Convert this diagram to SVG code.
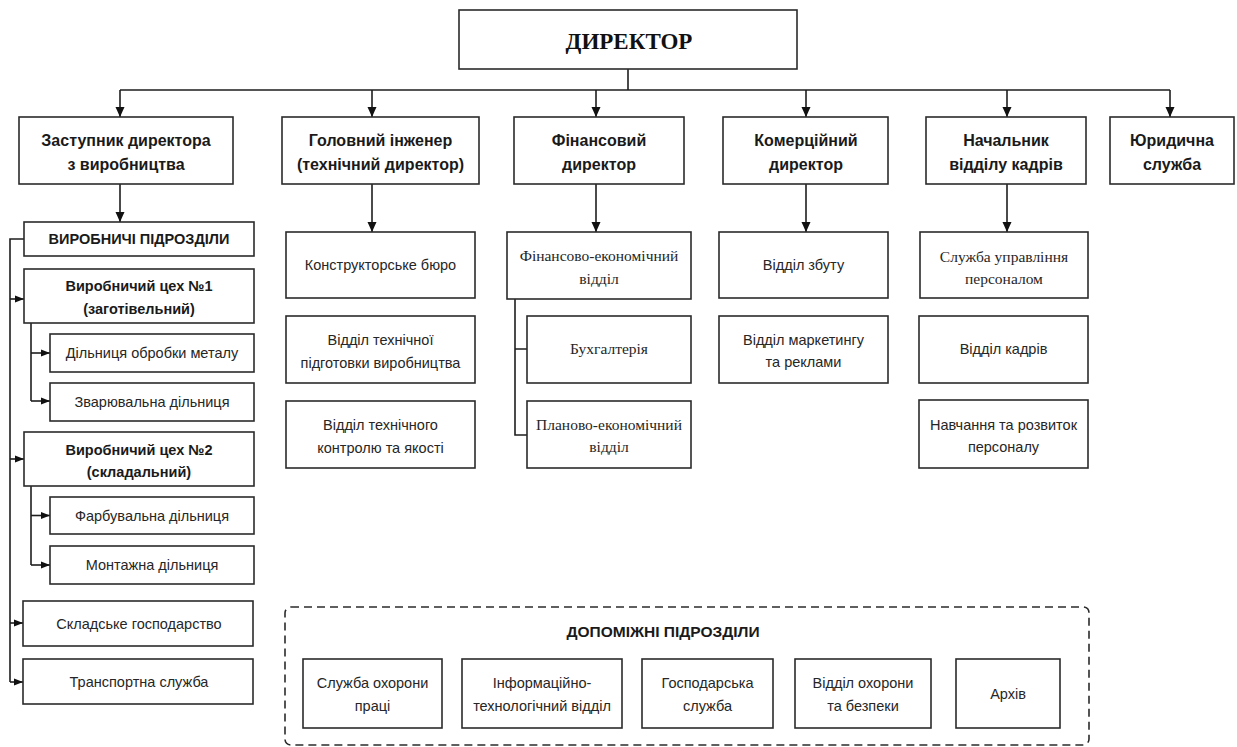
<svg xmlns="http://www.w3.org/2000/svg" width="1237" height="747" viewBox="0 0 1237 747">
<style>
.box{fill:#fff;stroke:#2b2b2b;stroke-width:1.6}
.ln{fill:none;stroke:#1e1e1e;stroke-width:1.6}
.dash{fill:none;stroke:#2b2b2b;stroke-width:1.6;stroke-dasharray:8 5}
.t{font-family:"Liberation Sans",Arial,sans-serif;font-size:14.5px;fill:#262626;text-anchor:middle}
.b{font-weight:bold;fill:#1a1a1a}
.l2{font-size:16px}
.s{font-family:"Liberation Serif","Times New Roman",serif;font-size:15.5px}
.dir{font-family:"Liberation Serif","Times New Roman",serif;font-size:23px;font-weight:bold;fill:#111;text-anchor:middle}
</style>
<defs>
<marker id="ar" markerUnits="userSpaceOnUse" markerWidth="10" markerHeight="10" viewBox="0 0 10 10" refX="10" refY="5" orient="auto">
<path d="M0,0.5 L10,5 L0,9.5 z" fill="#111"/>
</marker>
<marker id="as" markerUnits="userSpaceOnUse" markerWidth="9" markerHeight="9" viewBox="0 0 10 10" refX="10" refY="5" orient="auto">
<path d="M0,1 L10,5 L0,9 z" fill="#111"/>
</marker>
</defs>

<g id="connectors">
<path class="ln" d="M628,69 V90 M120,90 H1170"/>
<path class="ln" marker-end="url(#ar)" d="M120,90 V117"/>
<path class="ln" marker-end="url(#ar)" d="M372,90 V117"/>
<path class="ln" marker-end="url(#ar)" d="M596,90 V117"/>
<path class="ln" marker-end="url(#ar)" d="M806,90 V117"/>
<path class="ln" marker-end="url(#ar)" d="M1007,90 V117"/>
<path class="ln" marker-end="url(#ar)" d="M1170,90 V117"/>
<path class="ln" marker-end="url(#ar)" d="M120,184 V222"/>
<path class="ln" marker-end="url(#ar)" d="M372,184 V232"/>
<path class="ln" marker-end="url(#ar)" d="M596,184 V232"/>
<path class="ln" marker-end="url(#ar)" d="M806,184 V232"/>
<path class="ln" marker-end="url(#ar)" d="M1007,184 V232"/>
<path class="ln" d="M24,239 H10 V682"/>
<path class="ln" marker-end="url(#as)" d="M10,299 H24"/>
<path class="ln" marker-end="url(#as)" d="M10,459 H24"/>
<path class="ln" marker-end="url(#as)" d="M10,623 H23"/>
<path class="ln" marker-end="url(#as)" d="M10,682 H23"/>
<path class="ln" d="M31,323 V401"/>
<path class="ln" marker-end="url(#as)" d="M31,353 H50"/>
<path class="ln" marker-end="url(#as)" d="M31,401 H50"/>
<path class="ln" d="M31,486 V565"/>
<path class="ln" marker-end="url(#as)" d="M31,515.5 H50"/>
<path class="ln" marker-end="url(#as)" d="M31,565 H50"/>
<path class="ln" d="M515,299 V435 H527 M515,349 H527"/>
</g>

<g id="director"><rect class="box" x="459" y="10" width="338" height="59"/><text class="dir" x="629" y="48.5">ДИРЕКТОР</text></g>

<g id="zast"><rect class="box" x="19" y="117" width="214" height="67"/><text class="t b l2" x="126" y="145.5">Заступник директора</text><text class="t b l2" x="126" y="170">з виробництва</text></g>
<g id="holovnyi"><rect class="box" x="282" y="117" width="197" height="67"/><text class="t b l2" x="380.5" y="145.5">Головний інженер</text><text class="t b l2" x="380.5" y="170">(технічний директор)</text></g>
<g id="fin"><rect class="box" x="514" y="117" width="170" height="67"/><text class="t b l2" x="599" y="145.5">Фінансовий</text><text class="t b l2" x="599" y="170">директор</text></g>
<g id="kom"><rect class="box" x="723" y="117" width="165" height="67"/><text class="t b l2" x="806" y="145.5">Комерційний</text><text class="t b l2" x="806" y="170">директор</text></g>
<g id="kadry"><rect class="box" x="926" y="117" width="160" height="67"/><text class="t b l2" x="1006" y="145.5">Начальник</text><text class="t b l2" x="1006" y="170">відділу кадрів</text></g>
<g id="yur"><rect class="box" x="1110" y="117" width="124" height="67"/><text class="t b l2" x="1172" y="145.5">Юридична</text><text class="t b l2" x="1172" y="170">служба</text></g>

<g id="vyrob"><rect class="box" x="24" y="222" width="230" height="34"/><text class="t b" x="139" y="244">ВИРОБНИЧІ ПІДРОЗДІЛИ</text></g>
<g id="tsekh1"><rect class="box" x="24" y="269" width="230" height="54"/><text class="t b" x="139" y="291">Виробничий цех №1</text><text class="t b" x="139" y="314">(заготівельний)</text></g>
<g id="dilm"><rect class="box" x="50" y="334" width="204" height="38"/><text class="t" x="152" y="358">Дільниця обробки металу</text></g>
<g id="zvar"><rect class="box" x="50" y="383" width="204" height="38"/><text class="t" x="152" y="407">Зварювальна дільниця</text></g>
<g id="tsekh2"><rect class="box" x="24" y="432" width="230" height="54"/><text class="t b" x="139" y="454.5">Виробничий цех №2</text><text class="t b" x="139" y="477">(складальний)</text></g>
<g id="farb"><rect class="box" x="50" y="497" width="204" height="37"/><text class="t" x="152" y="520.5">Фарбувальна дільниця</text></g>
<g id="mont"><rect class="box" x="50" y="546" width="204" height="38"/><text class="t" x="152" y="570">Монтажна дільниця</text></g>
<g id="sklad"><rect class="box" x="23" y="601" width="230" height="45"/><text class="t" x="139" y="628.5">Складське господарство</text></g>
<g id="transp"><rect class="box" x="23" y="659" width="230" height="45"/><text class="t" x="139" y="687">Транспортна служба</text></g>

<g id="konstr"><rect class="box" x="286" y="232" width="189" height="66"/><text class="t" x="380.5" y="269.5">Конструкторське бюро</text></g>
<g id="vtp"><rect class="box" x="286" y="316" width="189" height="67"/><text class="t" x="380.5" y="344.5">Відділ технічної</text><text class="t" x="380.5" y="368">підготовки виробництва</text></g>
<g id="vtk"><rect class="box" x="286" y="401" width="189" height="67"/><text class="t" x="380.5" y="430">Відділ технічного</text><text class="t" x="380.5" y="452.5">контролю та якості</text></g>

<g id="fev"><rect class="box" x="507" y="232" width="184" height="67"/><text class="t s" x="599" y="261">Фінансово-економічний</text><text class="t s" x="599" y="283.5">відділ</text></g>
<g id="buh"><rect class="box" x="527" y="316" width="164" height="67"/><text class="t s" x="609" y="354">Бухгалтерія</text></g>
<g id="pev"><rect class="box" x="527" y="401" width="164" height="67"/><text class="t s" x="609" y="430">Планово-економічний</text><text class="t s" x="609" y="452">відділ</text></g>

<g id="zbut"><rect class="box" x="719" y="232" width="169" height="66"/><text class="t" x="803.5" y="270">Відділ збуту</text></g>
<g id="market"><rect class="box" x="719" y="316" width="169" height="67"/><text class="t" x="803.5" y="344.5">Відділ маркетингу</text><text class="t" x="803.5" y="367">та реклами</text></g>

<g id="sup"><rect class="box" x="920" y="232" width="168" height="66"/><text class="t s" x="1004" y="261.5">Служба управління</text><text class="t s" x="1004" y="283.5">персоналом</text></g>
<g id="vk"><rect class="box" x="919" y="316" width="169" height="67"/><text class="t" x="1003.5" y="354">Відділ кадрів</text></g>
<g id="navch"><rect class="box" x="919" y="400" width="169" height="68"/><text class="t" x="1003.5" y="429.5">Навчання та розвиток</text><text class="t" x="1003.5" y="452">персоналу</text></g>

<g id="dopomizhni">
<rect class="dash" x="285" y="607" width="804" height="138" rx="6"/>
<text class="t b" style="font-size:15.5px" x="663" y="637">ДОПОМІЖНІ ПІДРОЗДІЛИ</text>
</g>
<g id="ohor"><rect class="box" x="303" y="659" width="139" height="69"/><text class="t" x="372.5" y="688">Служба охорони</text><text class="t" x="372.5" y="710.5">праці</text></g>
<g id="it"><rect class="box" x="462" y="659" width="160" height="69"/><text class="t" x="542" y="688">Інформаційно-</text><text class="t" x="542" y="710.5">технологічний відділ</text></g>
<g id="gosp"><rect class="box" x="642" y="659" width="131" height="69"/><text class="t" x="707.5" y="688">Господарська</text><text class="t" x="707.5" y="710.5">служба</text></g>
<g id="bezp"><rect class="box" x="795" y="659" width="136" height="69"/><text class="t" x="863" y="688">Відділ охорони</text><text class="t" x="863" y="710.5">та безпеки</text></g>
<g id="arkh"><rect class="box" x="956" y="659" width="104" height="69"/><text class="t" x="1008" y="699">Архів</text></g>
</svg>
